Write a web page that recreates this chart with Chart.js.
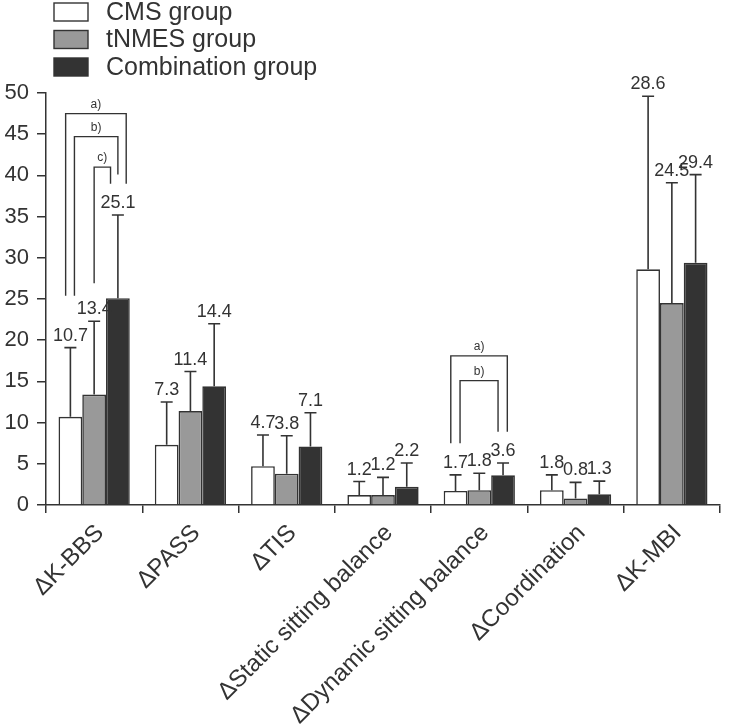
<!DOCTYPE html>
<html>
<head>
<meta charset="utf-8">
<script src="https://cdn.jsdelivr.net/npm/chart.js@4/dist/chart.umd.min.js"></script>
<style>
    body { margin: 0; background: #fff; }
    canvas { display: block; }
</style>
</head>
<body>
<canvas id="groupChart" width="731" height="728"></canvas>
<script>
const categories = ['\u0394K-BBS', '\u0394PASS', '\u0394TIS', '\u0394Static sitting balance',
    '\u0394Dynamic sitting balance', '\u0394Coordination', '\u0394K-MBI'];

const seriesNames = ['CMS group', 'tNMES group', 'Combination group'];

const cmsMeans = [10.7, 7.3, 4.7, 1.2, 1.7, 1.8, 28.6];
const tnmesMeans = [13.4, 11.4, 3.8, 1.2, 1.8, 0.8, 24.5];
const comboMeans = [25.1, 14.4, 7.1, 2.2, 3.6, 1.3, 29.4];

// upper error bar length (SD)
const cmsSd = [8.4, 5.2, 3.8, 1.65, 1.95, 1.85, 21.0];
const tnmesSd = [8.9, 4.8, 4.6, 2.15, 2.05, 1.95, 14.6];
const comboSd = [10.1, 7.6, 4.1, 2.9, 1.5, 1.6, 10.7];

const yTicks = [0, 5, 10, 15, 20, 25, 30, 35, 40, 45, 50];

// significance brackets: category, series from/to, bracket top and leg ends (data units)
const brackets = [
    { cat: 0, from: 0, to: 2, top: 47.5, fromEnd: 25.4, toEnd: 39.0, label: 'a)', dxFrom: -0.2, dxTo: 0.35 },
    { cat: 0, from: 0, to: 2, top: 44.7, fromEnd: 25.4, toEnd: 40.1, label: 'b)', dxFrom: 0.17, dxTo: 0 },
    { cat: 0, from: 1, to: 2, top: 41.0, fromEnd: 26.9, toEnd: 39.0, label: 'c)', dxFrom: 0, dxTo: -0.31 },
    { cat: 4, from: 0, to: 2, top: 18.1, fromEnd: 7.5, toEnd: 8.9, label: 'a)', dxFrom: -0.2, dxTo: 0.18 },
    { cat: 4, from: 0, to: 2, top: 15.1, fromEnd: 7.5, toEnd: 8.9, label: 'b)', dxFrom: 0.19, dxTo: -0.21 }
];

const FONT = "'Liberation Sans', Arial, sans-serif";
const INK = '#333333';

const errorBarPlugin = {
    id: 'errorBars',
    afterDatasetsDraw(chart) {
        const ctx = chart.ctx;
        const yScale = chart.scales.y;
        ctx.save();
        chart.data.datasets.forEach((ds, i) => {
            const meta = chart.getDatasetMeta(i);
            meta.data.forEach((bar, j) => {
                const topVal = ds.data[j] + ds.sd[j];
                const yTop = yScale.getPixelForValue(topVal);
                ctx.strokeStyle = INK;
                ctx.lineWidth = 1.6;
                ctx.beginPath();
                ctx.moveTo(bar.x, bar.y);
                ctx.lineTo(bar.x, yTop);
                ctx.moveTo(bar.x - 6, yTop);
                ctx.lineTo(bar.x + 6, yTop);
                ctx.stroke();

                ctx.fillStyle = INK;
                ctx.font = '18px ' + FONT;
                ctx.textAlign = 'center';
                ctx.textBaseline = 'alphabetic';
                ctx.fillText(ds.data[j].toFixed(1), bar.x, yTop - 7);
            });
        });

        brackets.forEach(b => {
            const barA = chart.getDatasetMeta(b.from).data[b.cat];
            const barB = chart.getDatasetMeta(b.to).data[b.cat];
            const xA = barA.x + b.dxFrom * barA.width;
            const xB = barB.x + b.dxTo * barB.width;
            const yTop = yScale.getPixelForValue(b.top);
            ctx.strokeStyle = INK;
            ctx.lineWidth = 1.4;
            ctx.beginPath();
            ctx.moveTo(xA, yScale.getPixelForValue(b.fromEnd));
            ctx.lineTo(xA, yTop);
            ctx.lineTo(xB, yTop);
            ctx.lineTo(xB, yScale.getPixelForValue(b.toEnd));
            ctx.stroke();
            ctx.fillStyle = INK;
            ctx.font = '12px ' + FONT;
            ctx.textAlign = 'center';
            ctx.textBaseline = 'alphabetic';
            ctx.fillText(b.label, (xA + xB) / 2, yTop - 6);
        });
        ctx.restore();
    }
};

const legendPlugin = {
    id: 'boxLegend',
    afterDraw(chart) {
        const ctx = chart.ctx;
        ctx.save();
        chart.data.datasets.forEach((ds, i) => {
            const yMid = 12 + i * 27.5;
            ctx.fillStyle = ds.backgroundColor;
            ctx.fillRect(54, yMid - 9, 34, 18);
            ctx.strokeStyle = INK;
            ctx.lineWidth = 1.4;
            ctx.strokeRect(54, yMid - 9, 34, 18);
            ctx.fillStyle = INK;
            ctx.font = '25px ' + FONT;
            ctx.textAlign = 'left';
            ctx.textBaseline = 'middle';
            ctx.fillText(ds.label, 106, yMid + 1);
        });
        ctx.restore();
    }
};

function makeDataset(label, data, sd, color) {
    return {
        label: label,
        data: data,
        sd: sd,
        backgroundColor: color,
        borderColor: INK,
        borderWidth: 1.6,
        barPercentage: 1.0,
        categoryPercentage: 0.74
    };
}

new Chart(document.getElementById('groupChart'), {
    type: 'bar',
    data: {
        labels: categories,
        datasets: [
            makeDataset(seriesNames[0], cmsMeans, cmsSd, '#ffffff'),
            makeDataset(seriesNames[1], tnmesMeans, tnmesSd, '#999999'),
            makeDataset(seriesNames[2], comboMeans, comboSd, '#333333')
        ]
    },
    options: {
        responsive: false,
        animation: false,
        layout: {
            padding: { top: 93, right: 11, left: 0, bottom: 0 }
        },
        plugins: {
            legend: { display: false },
            tooltip: { enabled: false }
        },
        scales: {
            x: {
                afterFit(axis) { axis.height = 223; },
                grid: {
                    drawOnChartArea: false,
                    drawTicks: true,
                    tickLength: 8,
                    color: INK,
                    lineWidth: 1.5
                },
                border: { display: true, color: INK, width: 1.5 },
                ticks: {
                    color: INK,
                    font: { family: FONT, size: 24 },
                    minRotation: 45,
                    maxRotation: 45,
                    autoSkip: false,
                    padding: 6,
                    labelOffset: 6
                }
            },
            y: {
                min: 0,
                max: 50,
                afterFit(axis) { axis.width = 46; },
                afterBuildTicks(axis) { axis.ticks = yTicks.map(v => ({ value: v })); },
                grid: {
                    drawOnChartArea: false,
                    drawTicks: true,
                    tickLength: 9,
                    color: INK,
                    lineWidth: 1.5
                },
                border: { display: true, color: INK, width: 1.5 },
                ticks: {
                    color: INK,
                    font: { family: FONT, size: 22 },
                    padding: 8
                }
            }
        }
    },
    plugins: [errorBarPlugin, legendPlugin]
});
</script>
</body>
</html>
